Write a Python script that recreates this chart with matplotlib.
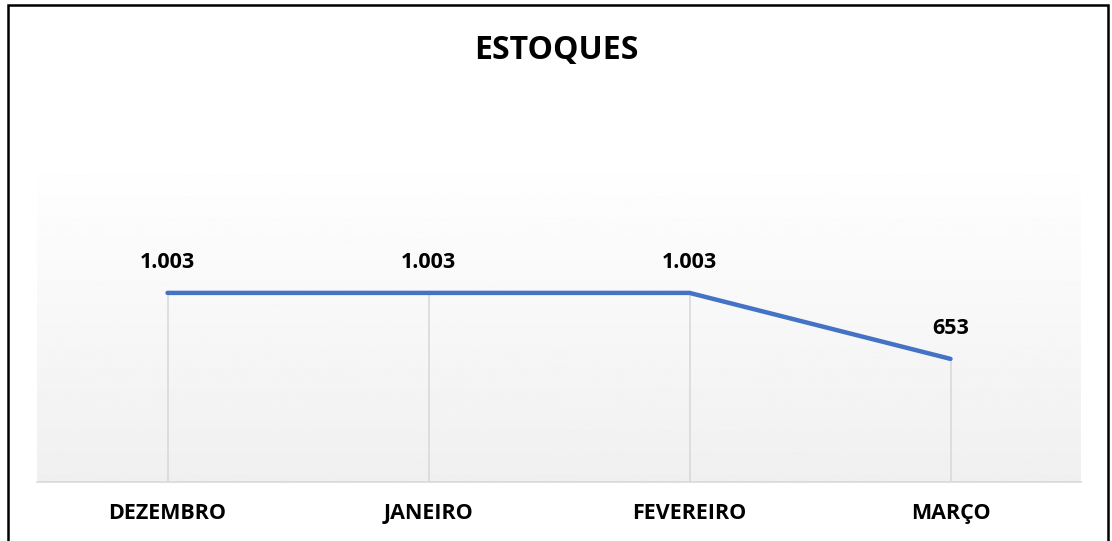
import numpy as np
import matplotlib.pyplot as plt
from matplotlib.patches import Rectangle

months = ["DEZEMBRO", "JANEIRO", "FEVEREIRO", "MARÇO"]
estoques = [1003, 1003, 1003, 653]
labels = ["1.003", "1.003", "1.003", "653"]

plt.rcParams['font.family'] = ['Open Sans', 'DejaVu Sans']

fig = plt.figure(figsize=(11.12, 5.41), dpi=100)
ax = fig.add_axes([37 / 1112, 1 - 482 / 541, (1081 - 37) / 1112, (482 - 153) / 541])

x = np.arange(len(months))
ymax = 1745

# gradient background, white at top to light gray at bottom
grad = np.linspace(1.0, 0.94, 256).reshape(-1, 1)
ax.imshow(grad, cmap='gray', vmin=0, vmax=1, aspect='auto',
          extent=(-0.5, 3.5, 0, ymax), origin='upper', zorder=0)

# drop lines
ax.vlines(x, 0, estoques, color='#d9d9d9', lw=1.2, zorder=1)
ax.plot(x, estoques, color='#4472C4', lw=3.2, solid_capstyle='round', zorder=3)

for xi, v, t in zip(x, estoques, labels):
    ax.annotate(t, (xi, v), xytext=(0, 14), textcoords='offset points',
                ha='center', va='bottom', fontsize=15.5, fontweight='bold')

ax.set_xlim(-0.5, 3.5)
ax.set_ylim(0, ymax)
ax.set_xticks(x)
ax.set_xticklabels(months, fontsize=15.5, fontweight='bold')
ax.tick_params(axis='x', length=0, pad=15)
ax.set_yticks([])
for s in ['top', 'left', 'right']:
    ax.spines[s].set_visible(False)
ax.spines['bottom'].set_color('#d9d9d9')
ax.spines['bottom'].set_linewidth(1.2)

fig.text(0.5, 1 - 50 / 541, "ESTOQUES", ha='center', va='center',
         fontsize=23, fontweight='bold')

# outer frame
fig.patches.append(Rectangle((8 / 1112, -0.05), (1108 - 8) / 1112, 1 - 5.5 / 541 + 0.05,
                             transform=fig.transFigure, fill=False,
                             edgecolor='black', lw=1.8))

fig.savefig("out.png", dpi=100)
